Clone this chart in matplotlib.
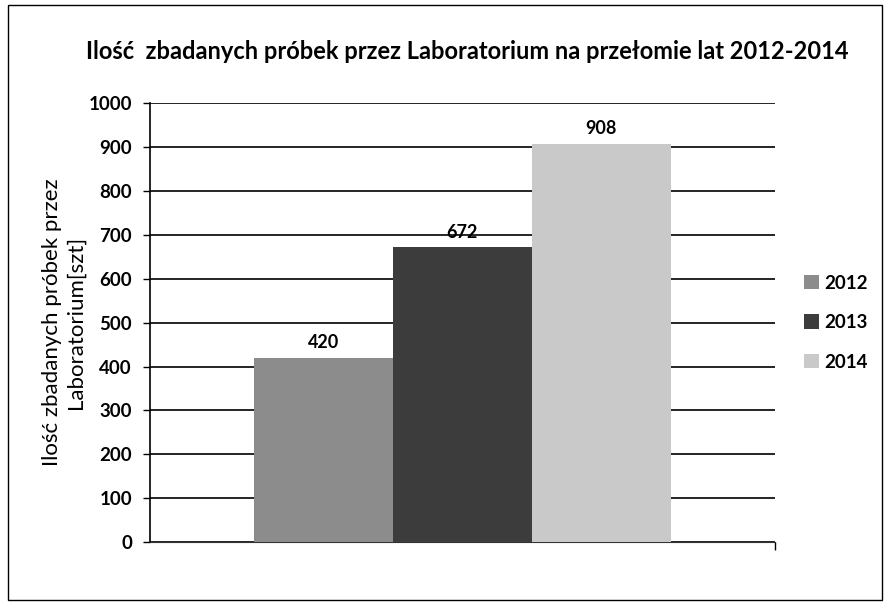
import matplotlib.pyplot as plt
from matplotlib.patches import Rectangle

years = ['2012', '2013', '2014']
samples = [420, 672, 908]
colors = ['#8c8c8c', '#3c3c3c', '#c9c9c9']
offsets = [-1, 0, 1]

plt.rcParams['font.family'] = ['Lato', 'DejaVu Sans']

fig = plt.figure(figsize=(8.9, 6.07), dpi=100)
ax = fig.add_axes([0.1685, 0.107, 0.702, 0.723])

for yr, val, col, off in zip(years, samples, colors, offsets):
    ax.bar(off, val, width=1.0, color=col, label=yr, zorder=3)
    ax.text(off, val + 15, str(val), ha='center', va='bottom',
            fontsize=13, fontweight='bold', zorder=4)

ax.set_xlim(-2.25, 2.25)
ax.set_ylim(0, 1000)
ax.set_yticks(range(0, 1001, 100))
ax.set_xticks([2.25])
ax.set_xticklabels([''])
ax.tick_params(axis='y', labelsize=13.5, length=5, width=1, direction='out', pad=8)
ax.tick_params(axis='x', length=6, width=1)
for lbl in ax.get_yticklabels():
    lbl.set_fontweight('bold')

ax.grid(axis='y', color='black', linewidth=1.2, zorder=0)
for s in ['top', 'right']:
    ax.spines[s].set_visible(False)
ax.spines['left'].set_linewidth(1.2)
ax.spines['bottom'].set_color('#333333')

ax.set_ylabel('Ilość zbadanych próbek przez\nLaboratorium[szt]', fontsize=16,
              labelpad=2, linespacing=1.2)

fig.text(0.525, 0.915, 'Ilość  zbadanych próbek przez Laboratorium na przełomie lat 2012-2014',
         ha='center', va='center', fontsize=17, fontweight='bold')

ax.legend(loc='center left', bbox_to_anchor=(1.02, 0.5), frameon=False,
          prop={'weight': 'bold', 'size': 13.5}, handlelength=0.8,
          handleheight=0.8, handletextpad=0.3, labelspacing=1.2)

fig.patches.append(Rectangle((0.009, 0.012), 0.982, 0.98, transform=fig.transFigure,
                             fill=False, edgecolor='black', linewidth=1))

fig.savefig('out.png', dpi=100)
